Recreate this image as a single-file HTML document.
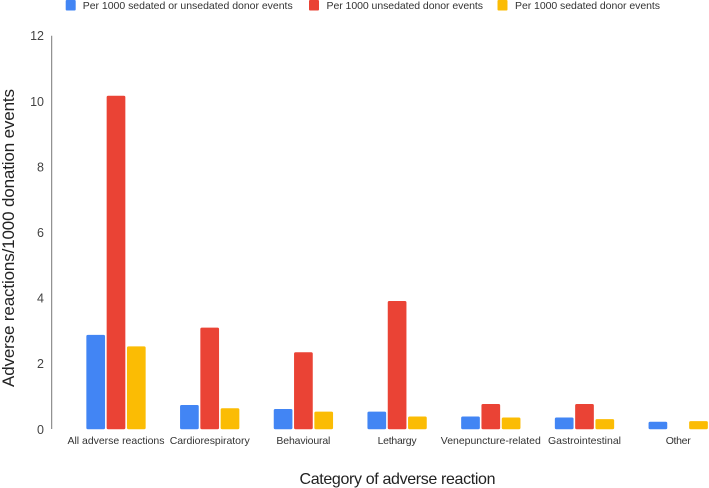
<!DOCTYPE html>
<html lang="en">
<head>
<meta charset="utf-8">
<title>Adverse reactions chart</title>
<style>
html,body{margin:0;padding:0;background:#fff;}
svg{display:block;font-family:"Liberation Sans",sans-serif;}
</style>
</head>
<body>
<svg id="chart" width="709" height="488" viewBox="0 0 709 488" xmlns="http://www.w3.org/2000/svg">
  <rect width="709" height="488" fill="#ffffff"/>
  <g>
    <g>
      <rect x="65.7" y="0" width="10" height="10.5" rx="1" fill="#4285f4"/>
      <text x="82.7" y="9" font-size="10.5" fill="#333" textLength="210" lengthAdjust="spacing">Per 1000 sedated or unsedated donor events</text>
    </g>
    <g>
      <rect x="309" y="0" width="10" height="10.5" rx="1" fill="#ea4335"/>
      <text x="326.5" y="9" font-size="10.5" fill="#333" textLength="156.5" lengthAdjust="spacing">Per 1000 unsedated donor events</text>
    </g>
    <g>
      <rect x="497.5" y="0" width="10" height="10.5" rx="1" fill="#fbbc04"/>
      <text x="515" y="9" font-size="10.5" fill="#333" textLength="145" lengthAdjust="spacing">Per 1000 sedated donor events</text>
    </g>
  </g>
  <g id="y-ticks"></g>
  <g id="bars"></g>
  <g id="x-labels"></g>
  <line x1="51.7" y1="35.7" x2="51.7" y2="429" stroke="#777" stroke-width="1"/>
  <text transform="translate(14,238) rotate(-90)" text-anchor="middle" font-size="17" fill="#222" textLength="298" lengthAdjust="spacing">Adverse reactions/1000 donation events</text>
  <text x="397.5" y="484" text-anchor="middle" font-size="16" fill="#222" textLength="196" lengthAdjust="spacing">Category of adverse reaction</text>
</svg>
<script>
const categories = ["All adverse reactions","Cardiorespiratory","Behavioural","Lethargy","Venepuncture-related","Gastrointestinal","Other"];
const allDonors = [2.88,0.74,0.62,0.54,0.39,0.36,0.23];
const unsedated = [10.17,3.1,2.35,3.91,0.77,0.77,0];
const sedated = [2.53,0.64,0.54,0.39,0.36,0.31,0.25];
const yTicks = [0,2,4,6,8,10,12];

const seriesList = [
  {name:'all-donors', values:allDonors, color:'#4285f4'},
  {name:'unsedated', values:unsedated, color:'#ea4335'},
  {name:'sedated', values:sedated, color:'#fbbc04'}
];
const SVGNS = 'http://www.w3.org/2000/svg';
const yMax = 12;
function yScale(v){ return 429.3 - (v / yMax) * 393.6; }
function xCenter(i){ return 116 + i * 93.7; }
const barWidth = 18.7, barPitch = 20.3;

const tickGroup = document.getElementById('y-ticks');
yTicks.forEach(function(t){
  const el = document.createElementNS(SVGNS,'text');
  
  
  el.setAttribute('x', 44);
  el.setAttribute('y', yScale(t) + 4.5);
  el.setAttribute('text-anchor', 'end');
  el.setAttribute('font-size', '12.5');
  el.setAttribute('fill', '#444');
  el.textContent = t;
  tickGroup.appendChild(el);
});

const barGroup = document.getElementById('bars');
seriesList.forEach(function(s, si){
  s.values.forEach(function(v, i){
    if (v <= 0) return;
    const r = document.createElementNS(SVGNS,'rect');
    
    
    const top = yScale(v);
    r.setAttribute('x', xCenter(i) + (si - 1) * barPitch - barWidth / 2);
    r.setAttribute('y', top);
    r.setAttribute('width', barWidth);
    r.setAttribute('height', yScale(0) - top);
    r.setAttribute('rx', 1.5);
    r.setAttribute('fill', s.color);
    barGroup.appendChild(r);
  });
});

const labelGroup = document.getElementById('x-labels');
const labelWidths = [97,80,54,39,100,73,25];
categories.forEach(function(c, i){
  const el = document.createElementNS(SVGNS,'text');
  
  
  el.setAttribute('x', xCenter(i));
  el.setAttribute('y', 444);
  el.setAttribute('text-anchor', 'middle');
  el.setAttribute('font-size', '10.5');
  el.setAttribute('fill', '#333');
  el.setAttribute('textLength', labelWidths[i]);
  el.setAttribute('lengthAdjust', 'spacing');
  el.textContent = c;
  labelGroup.appendChild(el);
});
</script>
</body>
</html>
